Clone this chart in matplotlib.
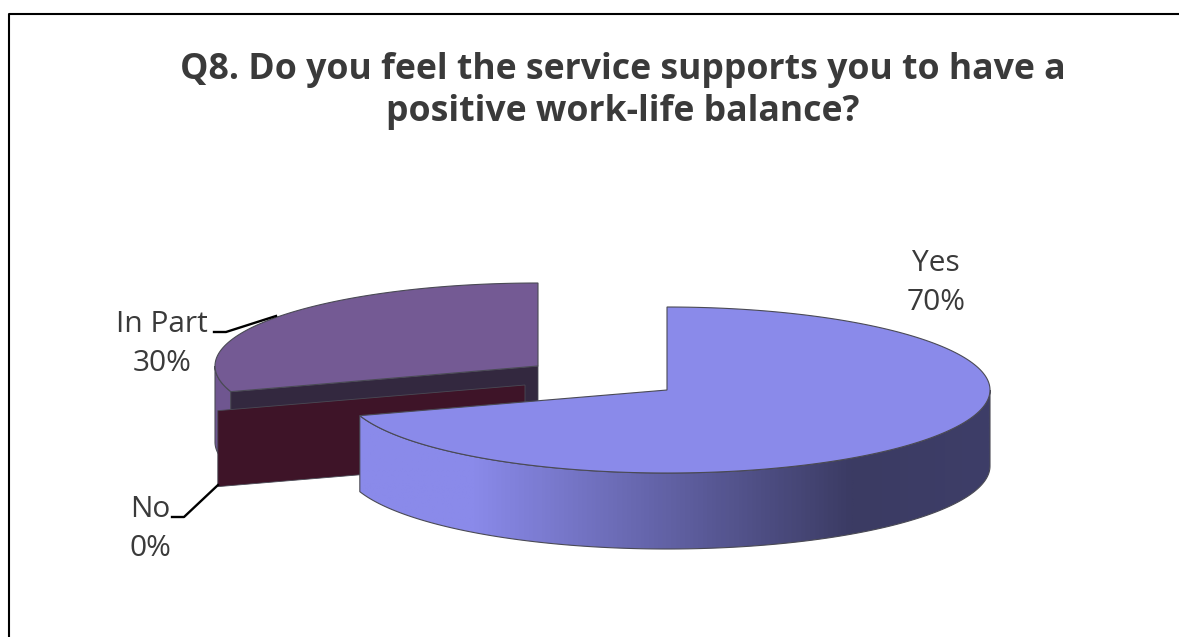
import numpy as np
import matplotlib
matplotlib.use('Agg')
import matplotlib.pyplot as plt
from matplotlib.colors import LinearSegmentedColormap
from matplotlib.patches import Polygon

# Survey answers, in percent, in the order the slices run clockwise from 12 o'clock
categories = ['Yes', 'No', 'In Part']
shares = [70, 0, 30]
title_lines = ['Q8. Do you feel the service supports you to have a', 'positive work-life balance?']

# Pie shape in figure pixels
RX, RY, DEPTH = 323, 83, 76
CENTRES = {'Yes': (667, 390), 'No': (525, 385), 'In Part': (538, 366)}
TOP_COL = {'Yes': '#8a8aea', 'No': '#3e1428', 'In Part': '#745a94'}
FACE_COL = {'Yes': '#8a8aea', 'No': '#3e1428', 'In Part': '#33283f'}
BASE_Z = {'In Part': 2, 'No': 10, 'Yes': 20}
EDGE = '#4a4a55'
TEXT = '#3a3a3a'
FONT = 'Open Sans'

fig = plt.figure(figsize=(11.79, 6.37), dpi=100)
ax = fig.add_axes([0, 0, 1, 1])


def rim(cx, cy, a0, a1, n=200):
    # Ellipse points, angles in degrees clockwise from the top
    t = np.radians(np.linspace(a0, a1, n))
    return np.column_stack([cx + RX * np.sin(t), cy - RY * np.cos(t)])


def draw_wall(name, a0, a1):
    # Curved outer wall, only the front half of the rim shows
    a0, a1 = max(a0, 90), min(a1, 270)
    if a1 <= a0:
        return
    z = BASE_Z[name]
    cx, cy = CENTRES[name]
    upper = rim(cx, cy, a0, a1)
    lower = upper[::-1] + [0, DEPTH]
    wall = Polygon(np.vstack([upper, lower]), closed=True, fc='none', ec=EDGE, lw=0.8, zorder=z + 1)
    ax.add_patch(wall)
    if name == 'Yes':
        # Shading runs from light on the left to dark towards the right
        cmap = LinearSegmentedColormap.from_list('wall', ['#8a8aea', '#8a8aea', '#3b3b63', '#3e3e68'])
        xs = np.linspace(0, 1, 512)
        grad = np.interp(xs, [0, 0.17, 0.79, 1], [0, 0.33, 0.67, 1])
        img = ax.imshow(grad[None, :], cmap=cmap, vmin=0, vmax=1, aspect='auto',
                        extent=(360, 990, 560, 380), zorder=z)
        img.set_clip_path(wall)
    else:
        wall.set_facecolor('#6f5690')


def draw_radial_face(name, angle):
    # Flat cut face between the centre and the rim
    cx, cy = CENTRES[name]
    p = rim(cx, cy, angle, angle, 1)[0]
    pts = [(cx, cy), tuple(p), (p[0], p[1] + DEPTH), (cx, cy + DEPTH)]
    ax.add_patch(Polygon(pts, closed=True, fc=FACE_COL[name], ec=EDGE, lw=0.6, zorder=BASE_Z[name] + 2))


def draw_top(name, a0, a1):
    cx, cy = CENTRES[name]
    pts = np.vstack([[(cx, cy)], rim(cx, cy, a0, a1)])
    ax.add_patch(Polygon(pts, closed=True, fc=TOP_COL[name], ec=EDGE, lw=0.8, zorder=BASE_Z[name] + 3))


# Slices are layered with BASE_Z, back slice lowest
starts = np.cumsum([0] + shares[:-1]) * 3.6
ends = np.cumsum(shares) * 3.6
for name, a0, a1 in zip(categories, starts, ends):
    draw_wall(name, a0, a1)
    draw_radial_face(name, a0)
    if a1 > a0:
        draw_top(name, a0, a1)

ax.set_xlim(0, 1179)
ax.set_ylim(637, 0)
ax.axis('off')

# Chart border, runs off the right and bottom edges
ax.plot([9, 9, 1185], [645, 14, 14], color='black', lw=1.5, zorder=1, clip_on=False)

# Title
ax.text(622.5, 70, title_lines[0], ha='center', va='center', fontsize=25.7, fontweight='bold',
        color=TEXT, family=FONT)
ax.text(622.5, 112, title_lines[1], ha='center', va='center', fontsize=25.7, fontweight='bold',
        color=TEXT, family=FONT)

# Slice labels and their leader lines
label_pos = {'Yes': (936, 283), 'No': (150, 529), 'In Part': (162, 344)}
for name, share in zip(categories, shares):
    x, y = label_pos[name]
    ax.text(x, y, f'{name}\n{share}%', ha='center', va='center', fontsize=21.5, color=TEXT,
            family=FONT, linespacing=1.42, zorder=40)
ax.plot([214, 226, 276], [332, 332, 316], color='black', lw=1.7, zorder=35)
ax.plot([172, 184, 218], [517, 517, 485], color='black', lw=1.7, zorder=35)

fig.savefig('out.png', dpi=100)
